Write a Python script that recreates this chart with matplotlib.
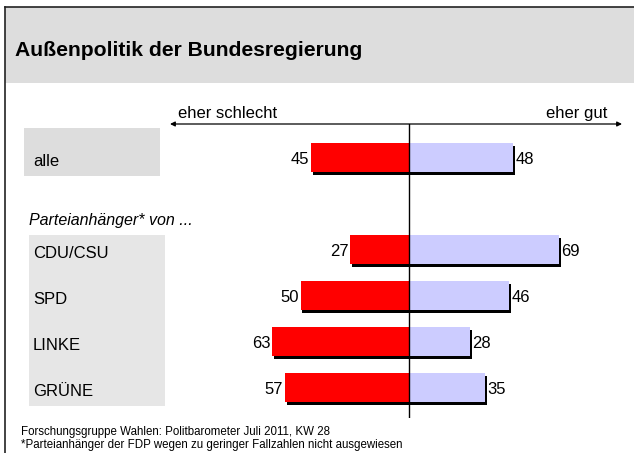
import matplotlib
matplotlib.use('Agg')
import matplotlib.pyplot as plt
from matplotlib.patches import Rectangle

plt.rcParams['font.family'] = ['Liberation Sans', 'DejaVu Sans']

title = "Außenpolitik der Bundesregierung"
groups = ["alle", "CDU/CSU", "SPD", "LINKE", "GRÜNE"]
positions = [0, 2, 3, 4, 5]
schlecht = [45, 27, 50, 63, 57]
gut = [48, 69, 46, 28, 35]
left_label = "eher schlecht"
right_label = "eher gut"
subheading = "Parteianhänger* von ..."
footer = ["Forschungsgruppe Wahlen: Politbarometer Juli 2011, KW 28",
          "*Parteianhänger der FDP wegen zu geringer Fallzahlen nicht ausgewiesen"]

W, H = 634, 453
fig = plt.figure(figsize=(W / 100, H / 100), dpi=100)


def fx(px):
    return px / W


def fy(py):
    return 1 - py / H


def frect(x0, y0, x1, y1, **kw):
    fig.patches.append(Rectangle((fx(x0), fy(y1)), fx(x1) - fx(x0), fy(y0) - fy(y1),
                                 transform=fig.transFigure, **kw))


# header band and frame
frect(5, 7, 640, 83, facecolor='#dddddd', edgecolor='none', zorder=0)
fig.add_artist(plt.Line2D([fx(5), fx(5)], [fy(7), fy(460)], color='#222222', lw=1.2,
                          transform=fig.transFigure))
fig.add_artist(plt.Line2D([fx(5), fx(640)], [fy(7), fy(7)], color='#222222', lw=1.2,
                          transform=fig.transFigure))
fig.text(fx(15), fy(56), title, fontsize=15.2, fontweight='bold', va='baseline', ha='left')

# label boxes
frect(24, 128, 160, 176, facecolor='#dddddd', edgecolor='none')
frect(29, 235, 165, 406, facecolor='#e6e6e6', edgecolor='none')

fig.text(fx(29), fy(225), subheading, fontsize=11.5, style='italic', va='baseline', ha='left')

FS = 12
for g, p in zip(groups, positions):
    yc = 157.5 + p * 46
    fig.text(fx(33), fy(yc + 8), g, fontsize=FS, va='baseline', ha='left')

# chart axes
px_unit = 2.17
row = 46.0
ax = fig.add_axes([fx(170), fy(418), (622 - 170) / W, (418 - 124) / H])
ax.set_xlim(-(409 - 170) / px_unit, (622 - 409) / px_unit)
ax.set_ylim((418 - 157.5) / row, (124 - 157.5) / row)
ax.axis('off')
ax.patch.set_visible(False)

bh = 29 / row
dx = 1.8 / px_unit
dy = 3 / row
ax.barh([p + dy for p in positions], [s + g for s, g in zip(schlecht, gut)],
        left=[-s + dx for s in schlecht], height=bh, color='black', zorder=1)
ax.barh(positions, [-s for s in schlecht], height=bh, color='#ff0000', zorder=2)
ax.barh(positions, gut, height=bh, color='#ccccff', zorder=2)
ax.axvline(0, color='black', lw=1, zorder=3)

for p, s, g in zip(positions, schlecht, gut):
    ax.annotate(str(s), xy=(-s, p), xytext=(-1.5, 0), textcoords='offset points',
                ha='right', va='center_baseline', fontsize=FS)
    ax.annotate(str(g), xy=(g, p), xytext=(2.0, 0), textcoords='offset points',
                ha='left', va='center_baseline', fontsize=FS)

ax.annotate('', xy=(0, 1), xytext=(1, 1), xycoords='axes fraction',
            arrowprops=dict(arrowstyle='<|-|>', color='black', lw=0.9,
                            mutation_scale=7, shrinkA=0, shrinkB=0),
            annotation_clip=False)

fig.text(fx(178), fy(118), left_label, fontsize=FS, va='baseline', ha='left')
fig.text(fx(607), fy(118), right_label, fontsize=FS, va='baseline', ha='right')

fig.text(fx(21), fy(432), footer[0], fontsize=8.3, va='center', ha='left')
fig.text(fx(21), fy(445), footer[1], fontsize=8.3, va='center', ha='left')

fig.savefig('out.png', dpi=100)
